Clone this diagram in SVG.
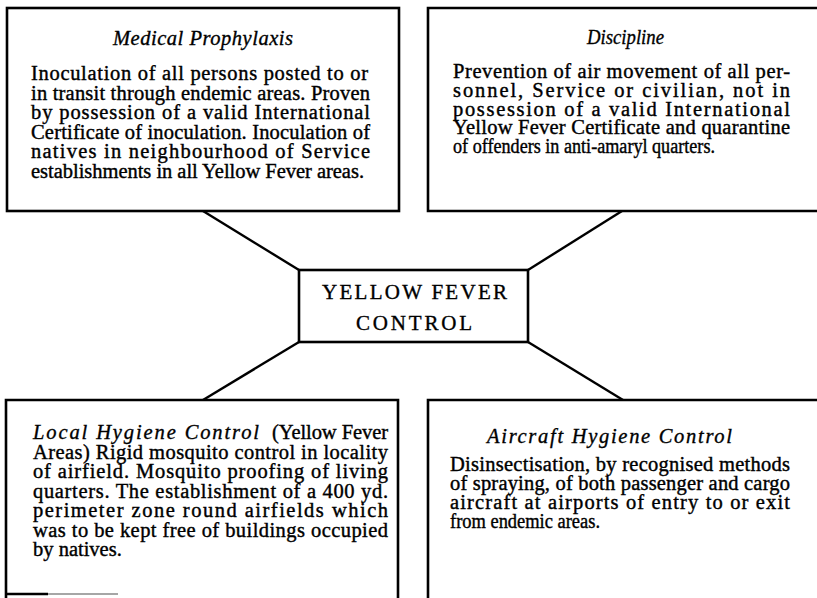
<svg xmlns="http://www.w3.org/2000/svg" width="817" height="598" viewBox="0 0 817 598">
  <style>
    .frame { fill: none; stroke: #000; stroke-width: 2.6; stroke-linecap: square; }
    .link { stroke: #000; stroke-width: 2.4; fill: none; }
    .body { font-family: "Liberation Serif", "Times New Roman", serif; font-size: 20.5px; fill: #000; stroke: #000; stroke-width: 0.4; }
    .head { font-family: "Liberation Serif", "Times New Roman", serif; font-size: 20.5px; font-style: italic; fill: #000; stroke: #000; stroke-width: 0.35; }
    .hub { font-family: "Liberation Serif", "Times New Roman", serif; font-size: 21px; fill: #000; stroke: #000; stroke-width: 0.35; }
  </style>
  <rect width="817" height="598" fill="#fff"/>

  <!-- connectors from the hub to each corner panel -->
  <g id="connectors">
    <line class="link" x1="203" y1="211" x2="299" y2="270"/>
    <line class="link" x1="528" y1="270" x2="622" y2="211"/>
    <line class="link" x1="299" y1="342" x2="203" y2="400"/>
    <line class="link" x1="528" y1="342" x2="623" y2="400"/>
  </g>

  <!-- centre node -->
  <g id="hub">
    <rect class="frame" x="299" y="270" width="229" height="72" fill="#fff"/>
    <text class="hub" x="322" y="299" textLength="185" lengthAdjust="spacing">YELLOW FEVER</text>
    <text class="hub" x="356" y="330" textLength="116" lengthAdjust="spacing">CONTROL</text>
  </g>

  <!-- top left: medical prophylaxis -->
  <g id="medical-prophylaxis">
    <rect class="frame" x="7" y="8" width="392" height="203"/>
    <text class="head" x="113" y="45" textLength="180" lengthAdjust="spacing">Medical Prophylaxis</text>
    <text class="body" x="31" y="80" textLength="337" lengthAdjust="spacing">Inoculation of all persons posted to or</text>
    <text class="body" x="31" y="99.5" textLength="339" lengthAdjust="spacing">in transit through endemic areas. Proven</text>
    <text class="body" x="31" y="119" textLength="339" lengthAdjust="spacing">by possession of a valid International</text>
    <text class="body" x="31" y="138.5" textLength="339" lengthAdjust="spacing">Certificate of inoculation. Inoculation of</text>
    <text class="body" x="31" y="158" textLength="339" lengthAdjust="spacing">natives in neighbourhood of Service</text>
    <text class="body" x="31" y="177.5" textLength="333" lengthAdjust="spacing">establishments in all Yellow Fever areas.</text>
  </g>

  <!-- top right: discipline (panel runs past the right edge) -->
  <g id="discipline">
    <path class="frame" d="M830 8 H428 V211 H830"/>
    <text class="head" x="587" y="44" textLength="77" lengthAdjust="spacingAndGlyphs">Discipline</text>
    <text class="body" x="453" y="78" textLength="337" lengthAdjust="spacing">Prevention of air movement of all per-</text>
    <text class="body" x="453" y="97" textLength="337" lengthAdjust="spacing">sonnel, Service or civilian, not in</text>
    <text class="body" x="453" y="115.5" textLength="337" lengthAdjust="spacing">possession of a valid International</text>
    <text class="body" x="453" y="134" textLength="337" lengthAdjust="spacing">Yellow Fever Certificate and quarantine</text>
    <text class="body" x="453" y="152.5" textLength="262" lengthAdjust="spacingAndGlyphs">of offenders in anti-amaryl quarters.</text>
  </g>

  <!-- bottom left: local hygiene control (panel runs past the bottom edge) -->
  <g id="local-hygiene-control">
    <path class="frame" d="M6 610 V400 H398 V610"/>
    <line x1="6" y1="594" x2="48" y2="594" stroke="#000" stroke-width="2.4"/>
    <line x1="48" y1="594" x2="118" y2="594" stroke="#888" stroke-width="1.6"/>
    <text class="head" x="33" y="439" textLength="226" lengthAdjust="spacing">Local Hygiene Control</text>
    <text class="body" x="272" y="439" textLength="116" lengthAdjust="spacing">(Yellow Fever</text>
    <text class="body" x="33" y="458.5" textLength="355" lengthAdjust="spacing">Areas) Rigid mosquito control in locality</text>
    <text class="body" x="33" y="478" textLength="355" lengthAdjust="spacing">of airfield. Mosquito proofing of living</text>
    <text class="body" x="33" y="497.5" textLength="355" lengthAdjust="spacing">quarters. The establishment of a 400 yd.</text>
    <text class="body" x="33" y="517" textLength="355" lengthAdjust="spacing">perimeter zone round airfields which</text>
    <text class="body" x="33" y="536.5" textLength="355" lengthAdjust="spacing">was to be kept free of buildings occupied</text>
    <text class="body" x="33" y="556">by natives.</text>
  </g>

  <!-- bottom right: aircraft hygiene control -->
  <g id="aircraft-hygiene-control">
    <path class="frame" d="M428 610 V400 H830"/>
    <text class="head" x="487" y="443" textLength="245" lengthAdjust="spacing">Aircraft Hygiene Control</text>
    <text class="body" x="450" y="471" textLength="340" lengthAdjust="spacing">Disinsectisation, by recognised methods</text>
    <text class="body" x="450" y="490" textLength="340" lengthAdjust="spacing">of spraying, of both passenger and cargo</text>
    <text class="body" x="450" y="509" textLength="340" lengthAdjust="spacing">aircraft at airports of entry to or exit</text>
    <text class="body" x="450" y="528" textLength="150" lengthAdjust="spacingAndGlyphs">from endemic areas.</text>
  </g>
</svg>
